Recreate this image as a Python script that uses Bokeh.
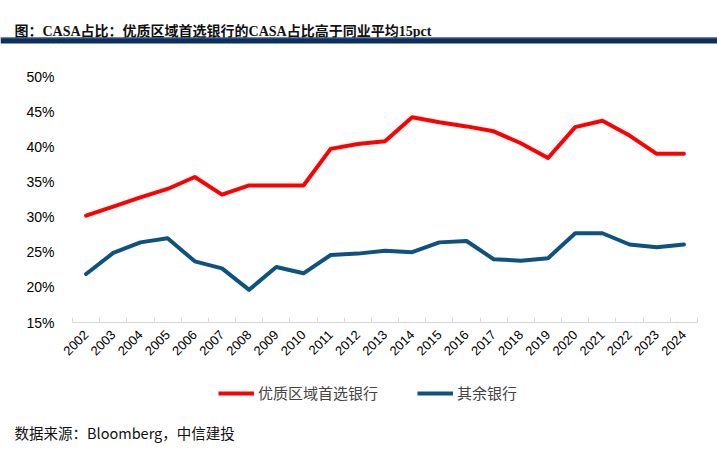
from bokeh.plotting import figure
from bokeh.models import (Range1d, FixedTicker, PrintfTickFormatter, Legend, LegendItem)
from bokeh.layouts import column
from bokeh.core.properties import value
from bokeh.embed import file_html
from bokeh.resources import INLINE

# ---- data ----
years = list(range(2002, 2025))
year_labels = [str(y) for y in years]
premium_banks = [30.2, 31.5, 32.8, 34.0, 35.7, 33.2, 34.5, 34.5, 34.5, 39.7, 40.4, 40.8,
                 44.2, 43.5, 42.9, 42.2, 40.5, 38.4, 42.8, 43.7, 41.6, 39.0, 39.0]
other_banks = [21.9, 24.9, 26.4, 27.0, 23.7, 22.7, 19.65, 22.9, 22.0, 24.6, 24.8, 25.2,
               25.0, 26.4, 26.6, 24.0, 23.8, 24.15, 27.7, 27.7, 26.1, 25.7, 26.1]
y_ticks = [15, 20, 25, 30, 35, 40, 45, 50]
series_names = ["优质区域首选银行", "其余银行"]
title_text = "图：CASA占比：优质区域首选银行的CASA占比高于同业平均15pct"
source_text = "数据来源：Bloomberg，中信建投"

RED = "#ff0000"
NAVY = "#0e527f"
CJK = "Noto Sans CJK SC"

W = 717
HDR_H = 46
FTR_TOP = 365
MAIN_H = FTR_TOP - HDR_H

# ---- header (title + band) ----
hdr = figure(width=W, height=HDR_H, x_range=Range1d(0, W), y_range=Range1d(HDR_H, 0),
             output_backend="svg", toolbar_location=None, min_border=0)
hdr.axis.visible = False
hdr.grid.visible = False
hdr.outline_line_color = None
hdr.text(x=[14], y=[31], text=[title_text], text_font=value("Liberation Serif, " + CJK),
         text_font_size="14px", text_font_style="bold", text_color="#111111",
         text_baseline="alphabetic", text_align="left")
hdr.quad(left=[0], right=[W], top=[37], bottom=[43], fill_color="#0c2f5e", line_color=None)
hdr.quad(left=[0], right=[W], top=[37], bottom=[38], fill_color="#4f6f96", line_color=None)

# ---- main chart ----
p = figure(width=W, height=MAIN_H, x_range=Range1d(2001.5, 2024.5), y_range=Range1d(15, 50),
           output_backend="svg", toolbar_location=None,
           min_border_left=72, min_border_right=20, min_border_top=30,
           min_border_bottom=MAIN_H - 30 - 246)
p.outline_line_color = None
p.xgrid.visible = False
p.ygrid.visible = False

r1 = p.line(years, premium_banks, line_color=RED, line_width=4, line_cap="round", line_join="round")
r2 = p.line(years, other_banks, line_color=NAVY, line_width=4, line_cap="round", line_join="round")

p.xaxis.ticker = FixedTicker(ticks=years, minor_ticks=[y - 0.5 for y in years] + [years[-1] + 0.5])
p.xaxis.major_label_overrides = {y: s for y, s in zip(years, year_labels)}
p.xaxis.major_label_orientation = 0.785398
p.xaxis.axis_line_color = "#d9d9d9"
p.xaxis.major_tick_in = 0
p.xaxis.major_tick_out = 0
p.xaxis.minor_tick_in = 5
p.xaxis.minor_tick_out = 0
p.xaxis.minor_tick_line_color = "#d9d9d9"
p.xaxis.major_label_standoff = 10
p.xaxis.major_label_text_font = "Liberation Sans"
p.xaxis.major_label_text_font_size = "13px"
p.xaxis.major_label_text_color = "#000000"

p.yaxis.ticker = FixedTicker(ticks=y_ticks)
p.yaxis.formatter = PrintfTickFormatter(format="%d%%")
p.yaxis.axis_line_color = None
p.yaxis.major_tick_line_color = None
p.yaxis.minor_tick_line_color = None
p.yaxis.major_label_standoff = 12
p.yaxis.major_label_text_font = "Liberation Sans"
p.yaxis.major_label_text_font_size = "14px"
p.yaxis.major_label_text_color = "#000000"

# ---- footer (legend + source) ----
FTR_H = 449 - FTR_TOP
ftr = figure(width=W, height=FTR_H, x_range=Range1d(0, W), y_range=Range1d(449, FTR_TOP),
             output_backend="svg", toolbar_location=None, min_border=0)
ftr.axis.visible = False
ftr.grid.visible = False
ftr.outline_line_color = None
# legend keys (series drawn outside the footer's visible range; only their legend swatches show)
k1 = ftr.line(years, premium_banks, line_color=RED, line_width=4)
k2 = ftr.line(years, other_banks, line_color=NAVY, line_width=4)
legend = Legend(items=[LegendItem(label=series_names[0], renderers=[k1]),
                       LegendItem(label=series_names[1], renderers=[k2])],
                location=(218, FTR_H - (403 - FTR_TOP)), orientation="horizontal",
                padding=0, margin=0, spacing=39, label_standoff=4,
                glyph_width=36, glyph_height=20, label_height=20,
                label_text_font=CJK, label_text_font_size="15px",
                border_line_color=None, background_fill_alpha=0)
ftr.add_layout(legend, "center")
ftr.text(x=[14], y=[432], text=[source_text], text_font=value(CJK), text_font_size="14.5px",
         text_color="#111111", text_baseline="middle", text_align="left")

layout = column(column(hdr), p, column(ftr), spacing=0)
open("out.html", "w").write(file_html(layout, INLINE))
